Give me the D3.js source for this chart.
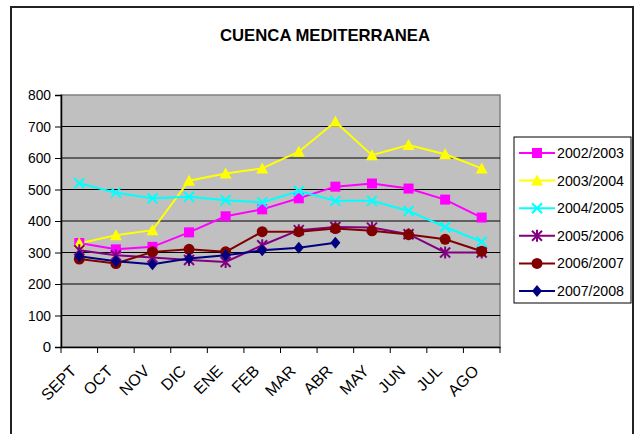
<!DOCTYPE html>
<html lang="es">
<head>
<meta charset="UTF-8">
<title>Cuenca Mediterranea</title>
<script src="https://d3js.org/d3.v7.min.js"></script>
<style>
  body { margin: 0; background: #fff; }
  svg { display: block; font-family: "Liberation Sans", Arial, sans-serif; }
</style>
</head>
<body>
<svg id="chart" width="637" height="434"></svg>
<script>
// Data
const months = ["SEPT", "OCT", "NOV", "DIC", "ENE", "FEB", "MAR", "ABR", "MAY", "JUN", "JUL", "AGO"];
const seasons = ["2002/2003", "2003/2004", "2004/2005", "2005/2006", "2006/2007", "2007/2008"];
const v0203 = [330, 310, 318, 364, 415, 437, 472, 509, 519, 503, 468, 411];
const v0304 = [329, 355, 371, 528, 551, 567, 620, 715, 609, 641, 612, 567];
const v0405 = [520, 490, 472, 477, 466, 459, 495, 464, 464, 432, 381, 334];
const v0506 = [307, 291, 284, 276, 270, 323, 371, 381, 379, 358, 300, 300];
const v0607 = [279, 265, 302, 310, 302, 366, 366, 376, 369, 357, 342, 304];
const v0708 = [288, 272, 263, 281, 291, 307, 315, 331, null, null, null, null];
const yTicks = [0, 100, 200, 300, 400, 500, 600, 700, 800];

const colors = ["#ff00ff", "#ffff00", "#00ffff", "#800080", "#800000", "#000080"];
const markers = ["square", "triangle", "x", "star", "circle", "diamond"];
const series = [v0203, v0304, v0405, v0506, v0607, v0708].map((vals, i) => ({
  name: seasons[i], color: colors[i], marker: markers[i], values: vals
}));

const svg = d3.select("#chart");

// outer chart frame
svg.append("rect")
  .attr("x", 11).attr("y", 7)
  .attr("width", 622).attr("height", 440)
  .attr("fill", "#fff").attr("stroke", "#222").attr("stroke-width", 2);

const plot = { left: 61, top: 95, right: 500, bottom: 347 };

const x = d3.scaleBand()
  .domain(months)
  .range([plot.left, plot.right]);

const y = d3.scaleLinear()
  .domain([0, 800])
  .range([plot.bottom, plot.top]);

// plot background
svg.append("rect")
  .attr("x", plot.left).attr("y", plot.top)
  .attr("width", plot.right - plot.left).attr("height", plot.bottom - plot.top)
  .attr("fill", "#c0c0c0").attr("stroke", "#808080").attr("stroke-width", 1.5);

// gridlines
svg.append("g")
  .selectAll("line")
  .data(yTicks.filter(d => d > 0 && d < 800))
  .join("line")
  .attr("x1", plot.left).attr("x2", plot.right)
  .attr("y1", d => y(d)).attr("y2", d => y(d))
  .attr("stroke", "#000").attr("stroke-width", 1);

// y axis
const yAxis = svg.append("g")
  .attr("transform", `translate(${plot.left},0)`)
  .call(d3.axisLeft(y).tickValues(yTicks).tickSize(6).tickPadding(4).tickFormat(d3.format("d")));
yAxis.select(".domain").attr("stroke", "#000").attr("stroke-width", 1.5);
yAxis.selectAll(".tick line").attr("stroke", "#000");
yAxis.selectAll("text").attr("font-size", 15).attr("fill", "#000")
  .attr("font-family", "'Liberation Sans', Arial, sans-serif")
  .attr("textLength", 23).attr("lengthAdjust", "spacingAndGlyphs");
yAxis.selectAll(".tick").filter(d => d === 0).select("text").attr("textLength", null);

// x axis
const xAxis = svg.append("g")
  .attr("transform", `translate(0,${plot.bottom})`)
  .call(d3.axisBottom(x).tickSize(0).tickFormat(""));
xAxis.select(".domain").attr("stroke", "#000").attr("stroke-width", 1.5);

// tick marks at category boundaries
svg.append("g")
  .selectAll("line")
  .data(d3.range(months.length + 1))
  .join("line")
  .attr("x1", i => plot.left + i * x.step())
  .attr("x2", i => plot.left + i * x.step())
  .attr("y1", plot.bottom).attr("y2", plot.bottom + 6)
  .attr("stroke", "#000");

// rotated month labels
svg.append("g")
  .selectAll("text")
  .data(months)
  .join("text")
  .attr("transform", d => `translate(${x(d) + x.bandwidth() / 2 - 2},${plot.bottom + 25}) rotate(-45)`)
  .attr("text-anchor", "end")
  .attr("font-size", 16)
  .text(d => d);

// lines
const line = d3.line()
  .defined(d => d != null)
  .x((d, i) => x(months[i]) + x.bandwidth() / 2)
  .y(d => y(d));

svg.append("g")
  .selectAll("path")
  .data(series)
  .join("path")
  .attr("d", s => line(s.values))
  .attr("fill", "none")
  .attr("stroke", s => s.color)
  .attr("stroke-width", 2);

// marker drawing
function drawMarker(g, type, color) {
  switch (type) {
    case "square":
      g.append("rect").attr("x", -5).attr("y", -5).attr("width", 10).attr("height", 10)
        .attr("fill", color);
      break;
    case "triangle":
      g.append("path").attr("d", "M0,-6L6,5L-6,5Z").attr("fill", color);
      break;
    case "x":
      g.append("path").attr("d", "M-5,-5L5,5M-5,5L5,-5")
        .attr("stroke", color).attr("stroke-width", 2).attr("fill", "none");
      break;
    case "star":
      g.append("path").attr("d", "M-5,-5L5,5M-5,5L5,-5M0,-6L0,6")
        .attr("stroke", color).attr("stroke-width", 2).attr("fill", "none");
      break;
    case "circle":
      g.append("circle").attr("r", 5.5).attr("fill", color);
      break;
    case "diamond":
      g.append("path").attr("d", "M0,-6L5,0L0,6L-5,0Z").attr("fill", color);
      break;
  }
}

series.forEach(s => {
  const mg = svg.append("g");
  s.values.forEach((v, i) => {
    if (v == null) return;
    const g = mg.append("g")
      .attr("transform", `translate(${x(months[i]) + x.bandwidth() / 2},${y(v)})`);
    drawMarker(g, s.marker, s.color);
  });
});

// title
svg.append("text")
  .attr("x", 325).attr("y", 41)
  .attr("text-anchor", "middle")
  .attr("font-size", 17)
  .attr("font-weight", "bold")
  .attr("textLength", 210)
  .attr("lengthAdjust", "spacingAndGlyphs")
  .text("CUENCA MEDITERRANEA");

// legend
const legend = svg.append("g");
legend.append("rect")
  .attr("x", 514).attr("y", 137)
  .attr("width", 117).attr("height", 166)
  .attr("fill", "#fff").attr("stroke", "#000").attr("stroke-width", 1);

const ly = d3.scalePoint().domain(seasons).range([153, 291]);
series.forEach(s => {
  const g = legend.append("g").attr("transform", `translate(0,${ly(s.name)})`);
  g.append("line").attr("x1", 519).attr("x2", 555).attr("y1", 0).attr("y2", 0)
    .attr("stroke", s.color).attr("stroke-width", 2);
  const mg = g.append("g").attr("transform", "translate(537,0)");
  drawMarker(mg, s.marker, s.color);
  g.append("text").attr("x", 557).attr("y", 5)
    .attr("font-size", 14)
    .attr("textLength", 67).attr("lengthAdjust", "spacingAndGlyphs")
    .text(s.name);
});
</script>
</body>
</html>
